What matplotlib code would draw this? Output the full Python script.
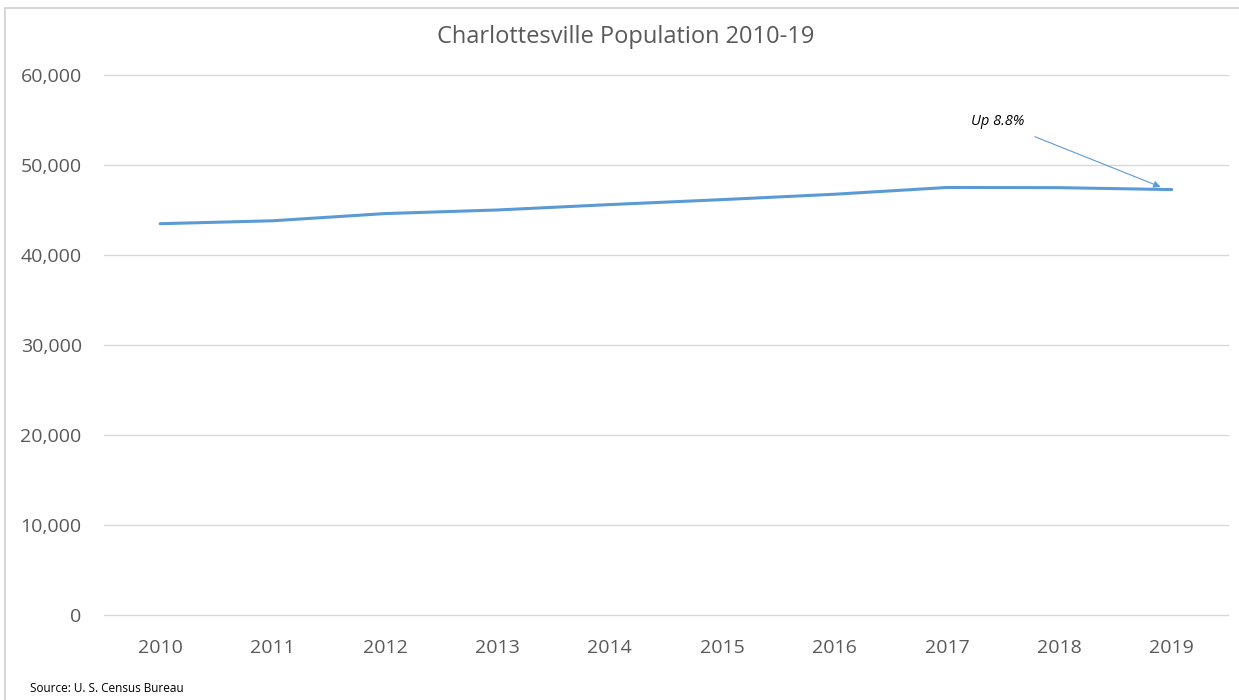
import matplotlib
matplotlib.use("Agg")
import matplotlib.pyplot as plt
from matplotlib.patches import Rectangle
from matplotlib.ticker import FuncFormatter

# data
years = ["2010", "2011", "2012", "2013", "2014", "2015", "2016", "2017", "2018", "2019"]
population = [43475, 43800, 44600, 45000, 45600, 46150, 46750, 47500, 47480, 47266]
y_ticks = [0, 10000, 20000, 30000, 40000, 50000, 60000]

LINE = "#5B9BD5"
GRID = "#D9D9D9"
INK = "#595959"

plt.rcParams["font.family"] = ["Open Sans", "DejaVu Sans"]

fig = plt.figure(figsize=(12.39, 7.0), dpi=100)
fig.patch.set_facecolor("white")
ax = fig.add_axes([0.0839, 0.1214, 0.9072, 0.7715])

x = list(range(len(years)))
ax.plot(x, population, color=LINE, linewidth=2.2, solid_capstyle="round", zorder=3)

ax.set_xlim(-0.5, len(years) - 0.5)
ax.set_ylim(0, 60000)
ax.set_yticks(y_ticks)
ax.yaxis.set_major_formatter(FuncFormatter(lambda v, p: f"{int(v):,}"))
ax.set_xticks(x)
ax.set_xticklabels(years)
ax.grid(axis="y", color=GRID, linewidth=1.0)
for gl in ax.get_ygridlines():
    gl.set_clip_on(False)
ax.set_axisbelow(True)
for s in ax.spines.values():
    s.set_visible(False)
ax.tick_params(axis="both", length=0, labelsize=14, colors=INK)
ax.tick_params(axis="y", pad=16)
ax.tick_params(axis="x", pad=17)

# annotation pointing at the last point
ax.annotate("Up 8.8%", xy=(x[-1] - 0.1, population[-1] + 300),
            xytext=(7.45, 54800), textcoords="data",
            fontsize=10.5, fontstyle="italic", color="black", ha="center", va="center",
            arrowprops=dict(arrowstyle="-|>", color=LINE, lw=0.8,
                            mutation_scale=10, shrinkA=9, shrinkB=0))

fig.text(0.505, 0.947, "Charlottesville Population 2010-19", ha="center", va="center",
         fontsize=17, color=INK)
fig.text(0.024, 0.016, "Source: U. S. Census Bureau", ha="left", va="center",
         fontsize=8.5, color="black")

# chart border
fig.patches.append(Rectangle((0.004, -0.01), 1.2, 0.999, transform=fig.transFigure,
                             fill=False, edgecolor="#D0D0D0", linewidth=1.2))

fig.savefig("out.png", dpi=100, facecolor="white")
